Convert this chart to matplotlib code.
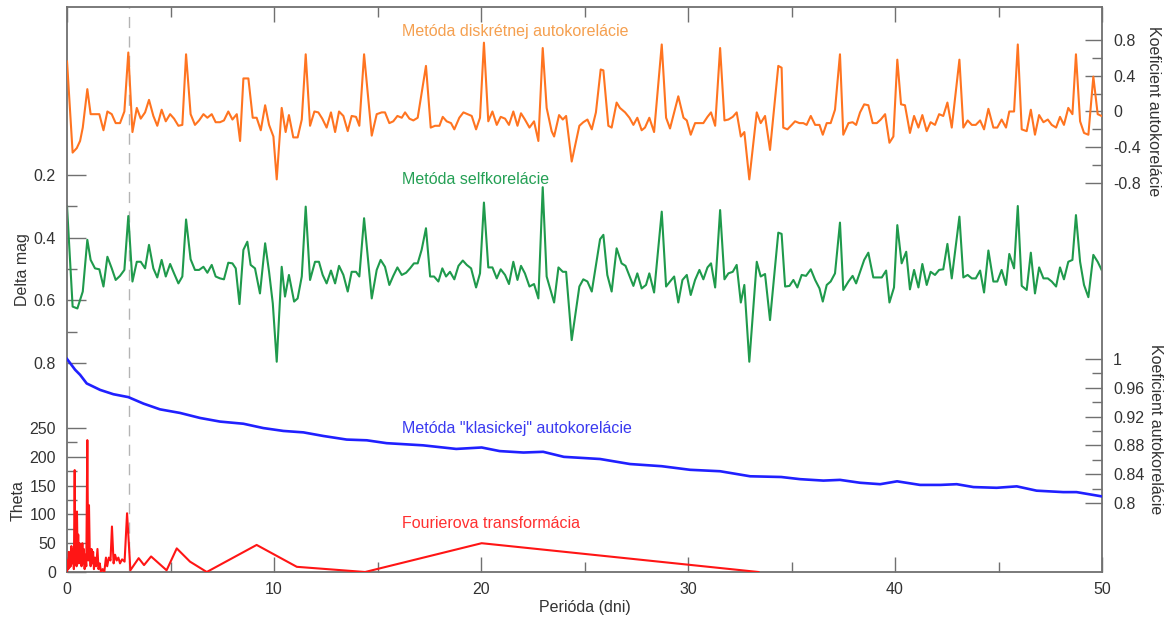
import matplotlib
matplotlib.use("Agg")
import matplotlib.pyplot as plt

plt.rcParams['font.family'] = ['Liberation Sans', 'DejaVu Sans']
plt.rcParams['font.size'] = 11.5

# Metoda diskretnej autokorelacie (prava horna os)
disc_per = [0.00, 0.27, 0.47, 0.63, 0.76, 0.98, 1.14, 1.35, 1.56, 1.76, 1.95, 2.16, 2.35, 2.56, 2.77, 2.96,
            3.16, 3.37, 3.56, 3.77, 3.96, 4.17, 4.36, 4.57, 4.77, 4.98, 5.17, 5.38, 5.57, 5.75, 5.97, 6.18,
            6.38, 6.59, 6.78, 6.99, 7.18, 7.39, 7.58, 7.79, 7.99, 8.20, 8.36, 8.52, 8.76, 8.97, 9.16, 9.36,
            9.57, 9.76, 9.97, 10.13, 10.37, 10.56, 10.72, 10.93, 11.14, 11.34, 11.53, 11.74, 11.95, 12.14,
            12.33, 12.54, 12.75, 12.95, 13.14, 13.35, 13.56, 13.75, 13.96, 14.12, 14.35, 14.72, 14.96, 15.20,
            15.36, 15.57, 15.76, 15.96,
            16.17, 16.33, 16.54, 16.73, 16.94, 17.34, 17.57, 17.78, 17.99, 18.15, 18.34, 18.55, 18.71, 18.95,
            19.15, 19.35, 19.55, 19.76, 19.95, 20.14, 20.35, 20.55, 20.76, 20.95, 21.16, 21.35, 21.56, 21.76,
            21.93, 22.12, 22.34, 22.56, 22.77, 22.98, 23.17, 23.41, 23.53, 23.77, 23.95, 24.11, 24.38, 24.75,
            24.94, 25.14, 25.35, 25.55, 25.78, 25.91, 26.15, 26.31, 26.55, 26.71, 26.96, 27.17, 27.36, 27.55,
            27.76, 27.92, 28.13, 28.36, 28.73, 28.94, 29.13, 29.53, 29.78, 29.94, 30.13, 30.34, 30.55, 30.74,
            30.94, 31.11, 31.31, 31.55, 31.76, 31.95, 32.16, 32.35, 32.55, 32.72, 32.96, 33.32, 33.51, 33.72,
            33.96, 34.36, 34.52,
            34.60, 34.80, 35.01, 35.17, 35.38, 35.57, 35.73, 35.93, 36.14, 36.35, 36.51, 36.70, 36.89, 37.10,
            37.34, 37.50, 37.75, 37.95, 38.12, 38.31, 38.51, 38.71, 38.92, 39.12, 39.31, 39.52, 39.73, 39.92,
            40.11, 40.29, 40.48, 40.72, 40.92, 41.13, 41.32, 41.53, 41.72, 41.93, 42.13, 42.33, 42.53, 42.74,
            43.11, 43.30, 43.51, 43.71, 43.90, 44.11, 44.30, 44.51, 44.75, 44.94, 45.15, 45.36, 45.52, 45.75,
            45.93, 46.12, 46.36, 46.56, 46.76, 46.96, 47.17, 47.38, 47.57, 47.78, 47.97, 48.16, 48.37, 48.57,
            48.74, 48.94, 49.13, 49.34, 49.58, 49.79, 49.98]
disc_val = [0.56, -0.46, -0.41, -0.33, -0.18, 0.25, -0.03, -0.03, -0.03, -0.21, 0.00, -0.03, -0.13, -0.13, 0.00, 0.66,
            -0.23, 0.04, -0.08, -0.01, 0.13, -0.05, -0.16, 0.02, -0.11, -0.03, -0.08, -0.16, -0.15, 0.64, -0.03, -0.15,
            -0.10, -0.03, -0.07, -0.03, -0.12, -0.12, -0.10, 0.00, -0.09, -0.03, -0.33, 0.37, 0.37, -0.07, -0.07, -0.21,
            0.07, -0.15, -0.28, -0.76, 0.04, -0.23, -0.04, -0.29, -0.29, -0.09, 0.64, -0.16, 0.00, -0.01,
            -0.08, -0.18, -0.01, -0.23, 0.00, -0.05, -0.22, -0.05, -0.06, -0.16, 0.64, -0.27, -0.03, -0.01,
            -0.01, -0.13, -0.11, -0.05,
            -0.07, -0.01, -0.08, -0.10, -0.07, 0.51, -0.18, -0.16, -0.16, -0.06, -0.11, -0.13, -0.20, -0.07,
            -0.01, -0.03, -0.05, -0.20, -0.07, 0.77, -0.11, 0.00, -0.15, -0.06, -0.08, -0.15, 0.00, -0.16,
            -0.02, -0.09, -0.18, -0.11, -0.33, 0.71, 0.04, -0.22, -0.28, -0.04, -0.09, -0.05, -0.56, -0.16,
            -0.12, -0.09, -0.20, -0.01, 0.47, 0.46, -0.16, -0.18, 0.10, 0.04, -0.01, -0.07, -0.15, -0.07,
            -0.21, -0.18, -0.07, -0.23, 0.75, -0.07, -0.19, 0.17, -0.07, -0.10, -0.26, -0.13, -0.13, -0.13,
            -0.06, -0.01, -0.16, 0.71, -0.10, -0.09, -0.06, -0.01, -0.28, -0.23, -0.76, -0.01, -0.13, -0.05,
            -0.43, 0.51, 0.49,
            -0.18, -0.20, -0.15, -0.11, -0.13, -0.13, -0.15, -0.05, -0.15, -0.15, -0.26, -0.13, -0.13, 0.02,
            0.64, -0.26, -0.13, -0.12, -0.15, -0.01, 0.08, 0.07, -0.13, -0.13, -0.09, -0.03, -0.35, -0.28,
            0.58, 0.08, 0.07, -0.24, -0.05, -0.18, -0.04, -0.22, -0.12, -0.15, -0.03, -0.05, 0.10, -0.18,
            0.58, -0.18, -0.10, -0.15, -0.15, -0.10, -0.20, 0.03, -0.18, -0.18, -0.09, -0.18, 0.00, 0.00,
            0.75, -0.20, -0.22, 0.02, -0.26, -0.04, -0.12, -0.09, -0.15, -0.18, -0.06, -0.15, 0.04, -0.03,
            0.64, -0.11, -0.24, -0.26, 0.39, -0.03, -0.05]

# Metoda selfkorelacie (Delta mag)
self_per = [0.00, 0.27, 0.50, 0.76, 0.98, 1.14, 1.35, 1.56, 1.76, 1.95, 2.16, 2.35, 2.56, 2.77, 2.96, 3.16,
            3.37, 3.56, 3.77, 3.96, 4.17, 4.36, 4.57, 4.77, 4.98, 5.17, 5.38, 5.57, 5.75, 5.97, 6.18, 6.38,
            6.59, 6.78, 6.99, 7.18, 7.39, 7.58, 7.79, 7.99, 8.15, 8.33, 8.52, 8.71, 8.87, 9.08, 9.32, 9.57,
            9.76, 9.94, 10.13, 10.37, 10.53, 10.72, 10.97, 11.14, 11.34, 11.53, 11.74, 11.98, 12.17, 12.35,
            12.54, 12.75, 12.95, 13.14, 13.35, 13.56, 13.75, 13.96, 14.12, 14.35, 14.72, 14.96, 15.15, 15.36,
            15.57, 15.76, 15.96,
            16.17, 16.38, 16.57, 16.76, 16.94, 17.13, 17.34, 17.54, 17.73, 17.94, 18.13, 18.31, 18.50, 18.71,
            18.91, 19.12, 19.31, 19.52, 19.76, 19.95, 20.14, 20.35, 20.55, 20.76, 20.95, 21.16, 21.35, 21.56,
            21.76, 21.93, 22.12, 22.34, 22.56, 22.77, 22.98, 23.17, 23.53, 23.74, 23.95, 24.11, 24.38, 24.75,
            24.94, 25.14, 25.35, 25.75, 25.91, 26.10, 26.31, 26.55, 26.79, 26.98, 27.17, 27.36, 27.55, 27.76,
            27.97, 28.13, 28.36, 28.73, 28.94, 29.13, 29.33, 29.53, 29.73, 29.94, 30.13, 30.34, 30.55, 30.74,
            30.94, 31.11, 31.31, 31.55, 31.76, 31.95, 32.16, 32.35, 32.55, 32.72, 32.96, 33.32, 33.51, 33.72,
            33.96, 34.36, 34.52,
            34.69, 34.90, 35.09, 35.28, 35.49, 35.70, 35.93, 36.14, 36.35, 36.51, 36.70, 36.89, 37.10, 37.34,
            37.50, 37.75, 37.95, 38.12, 38.31, 38.51, 38.71, 38.95, 39.15, 39.36, 39.57, 39.73, 39.95, 40.11,
            40.32, 40.54, 40.72, 40.92, 41.13, 41.32, 41.53, 41.72, 41.93, 42.13, 42.33, 42.53, 42.74, 43.11,
            43.30, 43.51, 43.71, 43.90, 44.11, 44.30, 44.51, 44.75, 44.94, 45.15, 45.36, 45.52, 45.75, 45.93,
            46.12, 46.36, 46.56, 46.76, 46.96, 47.17, 47.38, 47.57, 47.78, 47.97, 48.16, 48.37, 48.57, 48.74,
            48.94, 49.13, 49.34, 49.58, 49.79, 49.98]
self_val = [0.30, 0.62, 0.626, 0.572, 0.407, 0.471, 0.498, 0.501, 0.556, 0.461, 0.498, 0.535, 0.522, 0.503, 0.331, 0.54,
            0.477, 0.477, 0.498, 0.423, 0.498, 0.527, 0.471, 0.524, 0.484, 0.514, 0.546, 0.524, 0.342, 0.469, 0.503, 0.503,
            0.493, 0.512, 0.487, 0.524, 0.53, 0.533, 0.48, 0.482, 0.498, 0.612, 0.439, 0.413, 0.487, 0.498, 0.578, 0.418,
            0.509, 0.61, 0.796, 0.493, 0.588, 0.519, 0.604, 0.594, 0.524, 0.301, 0.535, 0.477, 0.477, 0.519,
            0.546, 0.505, 0.546, 0.49, 0.519, 0.572, 0.509, 0.509, 0.524, 0.338, 0.594, 0.503, 0.471, 0.493,
            0.551, 0.522, 0.495,
            0.519, 0.512, 0.498, 0.482, 0.482, 0.439, 0.37, 0.524, 0.524, 0.54, 0.498, 0.524, 0.509, 0.533,
            0.49, 0.473, 0.487, 0.498, 0.559, 0.514, 0.288, 0.495, 0.495, 0.53, 0.501, 0.519, 0.548, 0.477,
            0.535, 0.49, 0.514, 0.556, 0.548, 0.594, 0.239, 0.524, 0.607, 0.495, 0.509, 0.509, 0.727, 0.556,
            0.533, 0.54, 0.572, 0.405, 0.391, 0.519, 0.572, 0.434, 0.482, 0.49, 0.522, 0.554, 0.514, 0.562,
            0.551, 0.514, 0.575, 0.317, 0.556, 0.54, 0.524, 0.607, 0.535, 0.519, 0.583, 0.535, 0.503, 0.533,
            0.495, 0.482, 0.559, 0.312, 0.533, 0.514, 0.509, 0.487, 0.607, 0.551, 0.796, 0.477, 0.524, 0.516,
            0.663, 0.384, 0.388,
            0.556, 0.554, 0.535, 0.559, 0.519, 0.522, 0.501, 0.535, 0.562, 0.604, 0.551, 0.54, 0.514, 0.352,
            0.567, 0.54, 0.522, 0.546, 0.509, 0.471, 0.448, 0.527, 0.527, 0.527, 0.505, 0.607, 0.559, 0.36,
            0.482, 0.445, 0.565, 0.503, 0.559, 0.484, 0.551, 0.509, 0.519, 0.503, 0.501, 0.42, 0.53, 0.333,
            0.527, 0.519, 0.53, 0.53, 0.505, 0.575, 0.441, 0.54, 0.54, 0.503, 0.551, 0.452, 0.498, 0.299,
            0.554, 0.567, 0.448, 0.578, 0.495, 0.53, 0.53, 0.54, 0.556, 0.495, 0.533, 0.477, 0.471, 0.328,
            0.477, 0.551, 0.59, 0.455, 0.477, 0.503]

# Metoda "klasickej" autokorelacie (prava dolna os)
klas_per = [0.0, 0.39, 0.63, 0.95, 1.6, 2.24, 2.96, 3.69, 4.49, 5.46, 6.43, 7.39, 8.52, 9.48, 10.45, 11.42,
            12.38, 13.51, 14.48, 15.44, 17.2, 18.8, 20.03, 20.9, 22.05, 23.0, 24.0, 25.75, 27.2, 28.73, 30.1,
            31.55, 33.0, 34.5, 35.41, 36.54, 37.34, 38.31, 39.28, 40.1, 41.21, 42.2, 42.98, 43.79, 44.91,
            45.88, 46.84, 48.13, 48.77, 50.0]
klas_val = [1.0, 0.985, 0.978, 0.966, 0.957, 0.951, 0.947, 0.938, 0.930, 0.925, 0.918, 0.913, 0.910, 0.904, 0.900, 0.898,
            0.893, 0.888, 0.887, 0.883, 0.880, 0.875, 0.877, 0.872, 0.870, 0.871, 0.864, 0.861, 0.854, 0.851, 0.846,
            0.844, 0.837, 0.836, 0.833, 0.831, 0.832, 0.828, 0.826, 0.830, 0.825, 0.825, 0.826, 0.822, 0.821,
            0.823, 0.817, 0.815, 0.815, 0.809]

# Fourierova transformacia (Theta)
four_per = [0.00, 0.03, 0.06, 0.09, 0.12, 0.15, 0.18, 0.21, 0.25, 0.29, 0.33, 0.37, 0.40, 0.43, 0.46, 0.48,
            0.51, 0.54, 0.57, 0.60, 0.63, 0.66, 0.70, 0.74, 0.77, 0.81, 0.85, 0.89, 0.93, 0.98, 1.02, 1.06,
            1.10, 1.14, 1.18, 1.22, 1.26, 1.30, 1.35, 1.41, 1.47, 1.52, 1.58, 1.64, 1.72, 1.80, 1.88, 1.94,
            2.02, 2.10, 2.17, 2.25, 2.32, 2.40, 2.48, 2.56, 2.66, 2.78, 2.90, 3.06, 3.46, 3.72, 4.06, 4.81,
            5.30, 5.94, 6.75, 9.16, 11.10, 14.40, 20.03, 33.40]
four_val = [0, 20, 5, 35, 8, 30, 10, 45, 15, 40, 5, 177, 20, 60, 10, 105,
            25, 65, 15, 50, 20, 45, 10, 50, 15, 40, 5, 30, 10, 229, 20, 116,
            30, 10, 40, 15, 35, 5, 25, 10, 40, 5, 15, 0, 5, 0, 25, 10,
            25, 20, 79, 15, 30, 20, 25, 15, 22, 18, 102, 3, 24, 12, 27, 3,
            41, 18, 0, 47, 9, 0, 50, 0]

x_major = [0, 10, 20, 30, 40, 50]
x_minor = [5, 15, 25, 35, 45]
dm_major = [0.2, 0.4, 0.6, 0.8]
dm_minor = [0.3, 0.5, 0.7]
th_major = [0, 50, 100, 150, 200, 250]
th_minor = [25, 75, 125, 175, 225]
ko_major = [0.8, 0.4, 0, -0.4, -0.8]
ko_labels = ['0.8', '0.4', '0', '-0.4', '-0.8']
ko_minor = [0.6, 0.2, -0.2, -0.6]
kk_major = [1, 0.96, 0.92, 0.88, 0.84, 0.8]
kk_labels = ['1', '0.96', '0.92', '0.88', '0.84', '0.8']
kk_minor = [0.98, 0.94, 0.90, 0.86, 0.82]

c_orange = '#ff7420'
c_green = '#1f9a4c'
c_blue = '#2020ff'
c_red = '#ff1515'
c_spine = '#707070'
c_text = '#333333'

fig = plt.figure(figsize=(11.74, 6.21), dpi=100)
ax = fig.add_axes([0.0571, 0.0789, 0.8816, 0.9098])
ax_th = ax.twinx()
ax_ko = ax.twinx()
ax_kk = ax.twinx()

ax.set_xlim(0, 50)
ax.set_ylim(1.467, -0.336)
ax_th.set_ylim(0, 981)
ax_ko.set_ylim(-5.153, 1.169)
ax_kk.set_ylim(0.704, 1.489)

ax.axvline(3.0, color='#b4b4b4', lw=1, ls=(0, (8, 6)), zorder=0)

ax.plot(self_per, self_val, color=c_green, lw=1.5)
ax_ko.plot(disc_per, disc_val, color=c_orange, lw=1.5)
ax_kk.plot(klas_per, klas_val, color=c_blue, lw=1.9)
ax_th.plot(four_per, four_val, color=c_red, lw=1.5)

# osi
ax.set_xticks(x_major)
ax.set_xticks(x_minor, minor=True)
ax.tick_params(axis='x', which='major', direction='in', top=True, bottom=True,
               length=11, width=1, color=c_spine, labelcolor=c_text, pad=7)
ax.tick_params(axis='x', which='minor', direction='in', top=True, bottom=True,
               length=7, width=1, color=c_spine)

ax.set_yticks(dm_major, labels=['0.2', '0.4', '0.6', '0.8'])
ax.set_yticks(dm_minor, minor=True)
ax.tick_params(axis='y', which='major', direction='in', length=14, width=1,
               color=c_spine, labelcolor=c_text, pad=8)
ax.tick_params(axis='y', which='minor', direction='in', length=7, width=1, color=c_spine)

ax_th.yaxis.set_ticks_position('left')
ax_th.set_yticks(th_major, labels=[str(t) for t in th_major])
ax_th.set_yticks(th_minor, minor=True)
ax_th.tick_params(axis='y', which='major', direction='in', length=14, width=1,
                  color=c_spine, labelcolor=c_text, pad=8)
ax_th.tick_params(axis='y', which='minor', direction='in', length=7, width=1, color=c_spine)

for a, maj, lab, mnr in [(ax_ko, ko_major, ko_labels, ko_minor), (ax_kk, kk_major, kk_labels, kk_minor)]:
    a.set_yticks(maj, labels=lab)
    a.set_yticks(mnr, minor=True)
    a.tick_params(axis='y', which='major', direction='in', length=12, width=1,
                  color=c_spine, labelcolor=c_text, pad=8)
    a.tick_params(axis='y', which='minor', direction='in', length=7, width=1, color=c_spine)

for a in [ax_th, ax_ko, ax_kk]:
    for s in a.spines.values():
        s.set_visible(False)
for s in ax.spines.values():
    s.set_color(c_spine)
    s.set_linewidth(1.3)

# popisy osi
ax.text(0.5005, -0.062, 'Perióda (dni)', transform=ax.transAxes, ha='center', va='center', color=c_text)
ax.text(-0.0435, 0.5345, 'Delta mag', transform=ax.transAxes, rotation=90, ha='center', va='center', color=c_text)
ax.text(-0.0473, 0.1257, 'Theta', transform=ax.transAxes, rotation=90, ha='center', va='center', color=c_text)
ax.text(1.0493, 0.816, 'Koeficient autokorelácie', transform=ax.transAxes, rotation=270,
        ha='center', va='center', color=c_text)
ax.text(1.0512, 0.253, 'Koeficient autokorelácie', transform=ax.transAxes, rotation=270,
        ha='center', va='center', color=c_text)

# nazvy metod
ax_ko.text(16.18, 0.895, 'Metóda diskrétnej autokorelácie', color='#f5a050', ha='left', va='center')
ax.text(16.2, 0.216, 'Metóda selfkorelácie', color='#25a055', ha='left', va='center')
ax_kk.text(16.18, 0.903, 'Metóda "klasickej" autokorelácie', color='#3a3af0', ha='left', va='center')
ax_th.text(16.18, 85, 'Fourierova transformácia', color='#ff3030', ha='left', va='center')

fig.savefig('out.png', dpi=100)
